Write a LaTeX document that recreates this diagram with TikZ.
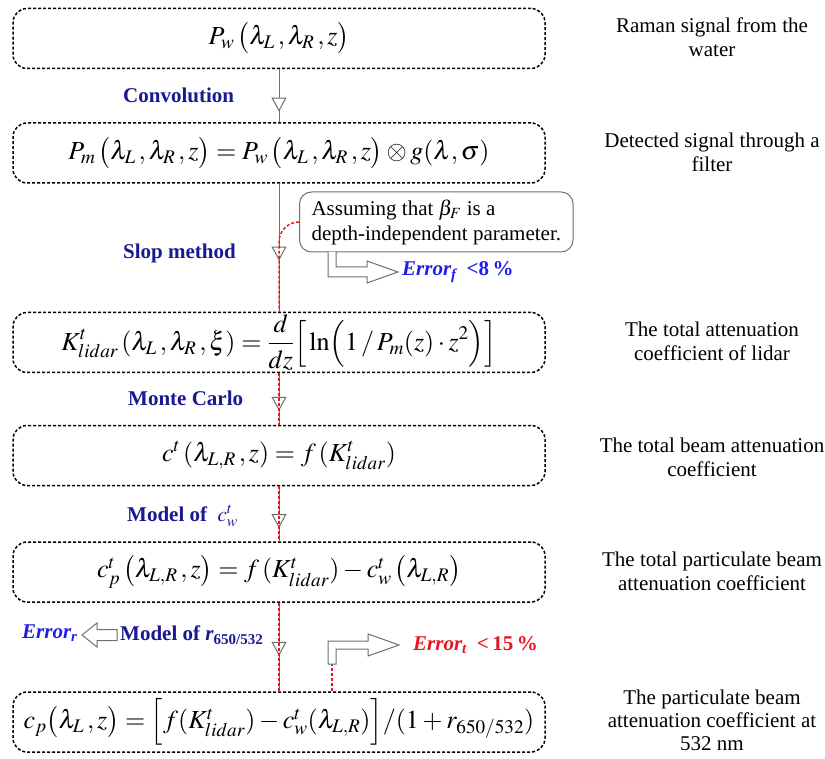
\documentclass[tikz,border=0pt]{standalone}
\usepackage{mathptmx}
\usepackage{fontspec}
\setmainfont{Liberation Serif}
\usetikzlibrary{arrows.meta,decorations.markings}
\definecolor{navy}{RGB}{25,25,145}
\definecolor{errblue}{RGB}{30,30,235}
\definecolor{errred}{RGB}{235,20,30}
\definecolor{lgray}{RGB}{110,110,110}
\begin{document}
\begin{tikzpicture}[x=1pt,y=-1pt,
  box/.style={draw, line width=1.5pt, dash pattern=on 3pt off 2pt, rounded corners=14pt,
    minimum width=532pt, minimum height=60pt, inner sep=0pt, font=\fontsize{26}{30}\selectfont},
  desc/.style={align=center, font=\fontsize{21}{24}\selectfont, inner sep=0pt},
  lab/.style={text=navy, font=\fontsize{21}{24}\selectfont\bfseries, inner sep=0pt, anchor=west},
  errlab/.style={font=\fontsize{21}{24}\selectfont\bfseries\itshape, inner sep=0pt, anchor=west},
  conn/.style={draw=lgray, line width=1pt},
  tri/.style={postaction={decorate}, decoration={markings,
    mark=at position #1 with {\arrow{Triangle[length=14pt,width=15pt,fill=white,line width=1pt]}}}},
  reddash/.style={draw=errred, line width=1.5pt, dash pattern=on 3pt off 2pt},
  hollow/.style={draw=lgray, fill=white, line width=1pt, line join=miter},
  callout/.style={draw=lgray, line width=1pt, rounded corners=12pt, minimum height=60pt,
    inner xsep=12pt, align=left, anchor=west, font=\fontsize{21}{25}\selectfont}
]
\useasboundingbox (0,0) rectangle (825,759);

% main boxes
\node[box] (b1) at (279,38.5) {$P_w\,\bigl(\lambda_L\,,\lambda_R\,,z\bigr)$};
\node[box] (b2) at (279,153) {$P_m\,\bigl(\lambda_L\,,\lambda_R\,,z\bigr)=P_w\,\bigl(\lambda_L\,,\lambda_R\,,z\bigr)\otimes g(\lambda,\sigma)$};
\node[box] (b3) at (279,342.5) {$\displaystyle K^{t}_{lidar}\,(\lambda_L\,,\lambda_R\,,\xi)=\frac{d}{dz}\Bigl[\,\ln\Bigl(1\,/\,P_m(z)\cdot z^{2}\Bigr)\Bigr]$};
\node[box] (b4) at (279,455.5) {$c^{t}\,(\lambda_{L,R}\,,z)=f\,(K^{t}_{lidar})$};
\node[box] (b5) at (279,572) {$c^{t}_{p}\,\bigl(\lambda_{L,R}\,,z\bigr)=f\,(K^{t}_{lidar})-c^{t}_{w}\,\bigl(\lambda_{L,R}\bigr)$};
\node[box] (b6) at (279,722) {$c_{p}\bigl(\lambda_L\,,z\bigr)=\Bigl[f(K^{t}_{lidar})-c^{t}_{w}(\lambda_{L,R})\Bigr]/(1+r_{650/532})$};

% right descriptions
\node[desc] (d1) at (712,37) {Raman signal from the\\water};
\node[desc] (d2) at (712,152) {Detected signal through a\\filter};
\node[desc] (d3) at (712,341) {The total attenuation\\coefficient of lidar};
\node[desc] (d4) at (712,457) {The total beam attenuation\\coefficient};
\node[desc] (d5) at (712,571) {The total particulate beam\\attenuation coefficient};
\node[desc, font=\fontsize{21}{23}\selectfont] (d6) at (712,720) {The particulate beam\\attenuation coefficient at\\532 nm};

% left method labels
\node[lab] (l1) at (123,95) {Convolution};
\node[lab] (l2) at (123,253) {Slop method};
\node[lab] (l3) at (128,398) {Monte Carlo};
\node[lab] (l4) at (127,516) {Model of\ \ \mdseries$c^{t}_{w}$};
\node[lab] (l5) at (120,635) {Model of \textit{r}\raisebox{-0.35ex}{\fontsize{15}{15}\selectfont 650/532}};

% connectors
\draw[conn, tri=0.8] (b1.south) -- (b2.north);
\draw[conn, tri=0.6] (b2.south) -- (b3.north);
\draw[conn, tri=0.73] (b3.south) -- (b4.north);
\draw[conn, tri=0.76] (b4.south) -- (b5.north);
\draw[conn, tri=0.6] (b5.south) -- (b6.north);

% callout
\node[callout] (co) at (299,222) {Assuming that $\beta_F$ is a\\depth-independent parameter.};
\coordinate (cv) at (279,242);
\draw[reddash] (co.west) to[out=180,in=90] (cv) -- (b3.north);
\draw[reddash] (b3.south) -- (b4.north);
\draw[reddash] (b4.south) -- (b5.north);
\draw[reddash] (b5.south) -- (b6.north);

% Error_f arrow
\draw[hollow] (328,252) -- (328,277) -- (367,277) -- (367,283) -- (398,272) -- (367,261) -- (367,267) -- (336,267) -- (336,252);
\node[errlab, text=errblue] (ef) at (402,272) {Error\raisebox{-0.35ex}{\fontsize{15}{15}\selectfont f}\upshape\ \ <8\,\%};

% Error_r arrow
\draw[hollow] (82,635) -- (97,623) -- (97,629.5) -- (117,629.5) -- (117,640.5) -- (97,640.5) -- (97,647) -- cycle;
\node[errlab, text=errblue] (er) at (22,633) {Error\raisebox{-0.35ex}{\fontsize{15}{15}\selectfont r}};

% Error_t arrow
\coordinate (et) at (332,664);
\draw[reddash] (b6.north -| et) -- (et);
\draw[hollow] (328,664) -- (328,641) -- (368,641) -- (368,634) -- (399,645) -- (368,656) -- (368,649) -- (336,649) -- (336,664) -- cycle;
\node[errlab, text=errred] (etx) at (413,645) {Error\raisebox{-0.35ex}{\fontsize{15}{15}\selectfont t}\upshape\ \ <\,15\,\%};
\end{tikzpicture}
\end{document}
